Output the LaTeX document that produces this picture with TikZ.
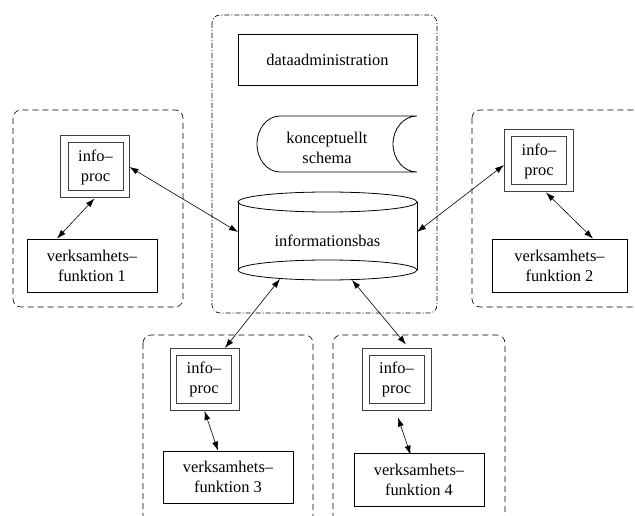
\documentclass[tikz,border=0pt]{standalone}
\usepackage{fontspec}
\setmainfont{Liberation Serif}
\usetikzlibrary{arrows.meta}
\begin{document}
\begin{tikzpicture}[x=1pt,y=-1pt,
  every node/.style={font=\fontsize{16.4}{20}\selectfont, align=center, inner sep=0pt},
  box/.style={draw, line width=0.8pt, rectangle},
  ipouter/.style={draw=black!75, line width=1pt, rectangle, minimum width=69pt, minimum height=62pt},
  ipinner/.style={draw=black!75, line width=1pt, rectangle, minimum width=55pt, minimum height=48pt},
  group/.style={dashed, dash pattern=on 6pt off 4pt, line width=0.6pt, rounded corners=8pt},
  core/.style={dash pattern=on 5pt off 2pt on 1pt off 2pt, line width=0.6pt, rounded corners=8pt},
  conn/.style={{Latex[length=9pt,width=6pt]}-{Latex[length=9pt,width=6pt]}, line width=0.6pt}]
\useasboundingbox (0,0) rectangle (635,516);
\clip (0,0) rectangle (635,516);

% group frames
\draw[core] (212,15) rectangle (437,313);
\draw[group] (13,110) rectangle (183,307);
\draw[group] (472,110) rectangle (645,307);
\draw[group] (143,335) rectangle (313,530);
\draw[group] (333,335) rectangle (505,530);

% data administration and conceptual schema
\node[box, minimum width=179pt, minimum height=51pt] (adm) at (327.5,59.5) {dataadministration};
\draw[line width=0.8pt] (417,116) -- (280,116)
  arc[start angle=270, end angle=90, x radius=23, y radius=28]
  -- (417,172)
  arc[start angle=90, end angle=270, x radius=24, y radius=28];
\node (ks) at (327,148) {konceptuellt\\schema};

% information base cylinder
\draw[line width=0.8pt] (238,202) -- (238,270) (417,202) -- (417,270);
\draw[line width=0.8pt] (327.5,202) ellipse [x radius=89.5, y radius=10];
\draw[line width=0.8pt] (327.5,270) ellipse [x radius=89.5, y radius=10];
\node (db) at (327.5,241) {informationsbas};
\coordinate (dbw) at (238,232);
\coordinate (dbe) at (417,232);
\coordinate (dbs3) at (280,279);
\coordinate (dbs4) at (352,280);

% information processors
\node[ipouter] (ip1) at (94.5,167) {};
\node[ipinner] (ip1t) at (95.5,167) {info--\\proc};
\node[ipouter] (ip2) at (539,161) {};
\node[ipinner] (ip2t) at (539,161) {info--\\proc};
\node[ipouter] (ip3) at (204.5,379.5) {};
\node[ipinner] (ip3t) at (204,379) {info--\\proc};
\node[ipouter] (ip4) at (396.5,379) {};
\node[ipinner] (ip4t) at (396.5,379) {info--\\proc};

% business functions
\node[box, minimum width=130pt, minimum height=53pt] (vf1) at (92,265.5) {verksamhets--\\funktion 1};
\node[box, minimum width=135pt, minimum height=53pt] (vf2) at (559.5,265.5) {verksamhets--\\funktion 2};
\node[box, minimum width=130pt, minimum height=52pt] (vf3) at (228,477) {verksamhets--\\funktion 3};
\node[box, minimum width=130pt, minimum height=53pt] (vf4) at (419,479.5) {verksamhets--\\funktion 4};

% connectors
\draw[conn] (ip1.east) -- (dbw);
\draw[conn] ([yshift=-4pt]ip2.west) -- (dbe);
\draw[conn] ([xshift=20.5pt]ip3.north) -- (dbs3);
\draw[conn] ([xshift=9.5pt,yshift=3pt]ip4.north) -- (dbs4);
\draw[conn] (ip1.south) -- ([xshift=-35pt]vf1.north);
\draw[conn] ([xshift=7pt]ip2.south) -- ([xshift=33.5pt]vf2.north);
\draw[conn] (ip3.south) -- ([xshift=-10pt]vf3.north);
\draw[conn] ([xshift=1.5pt,yshift=-7pt]ip4.south) -- ([xshift=-8.5pt,yshift=-2pt]vf4.north);
\end{tikzpicture}
\end{document}
